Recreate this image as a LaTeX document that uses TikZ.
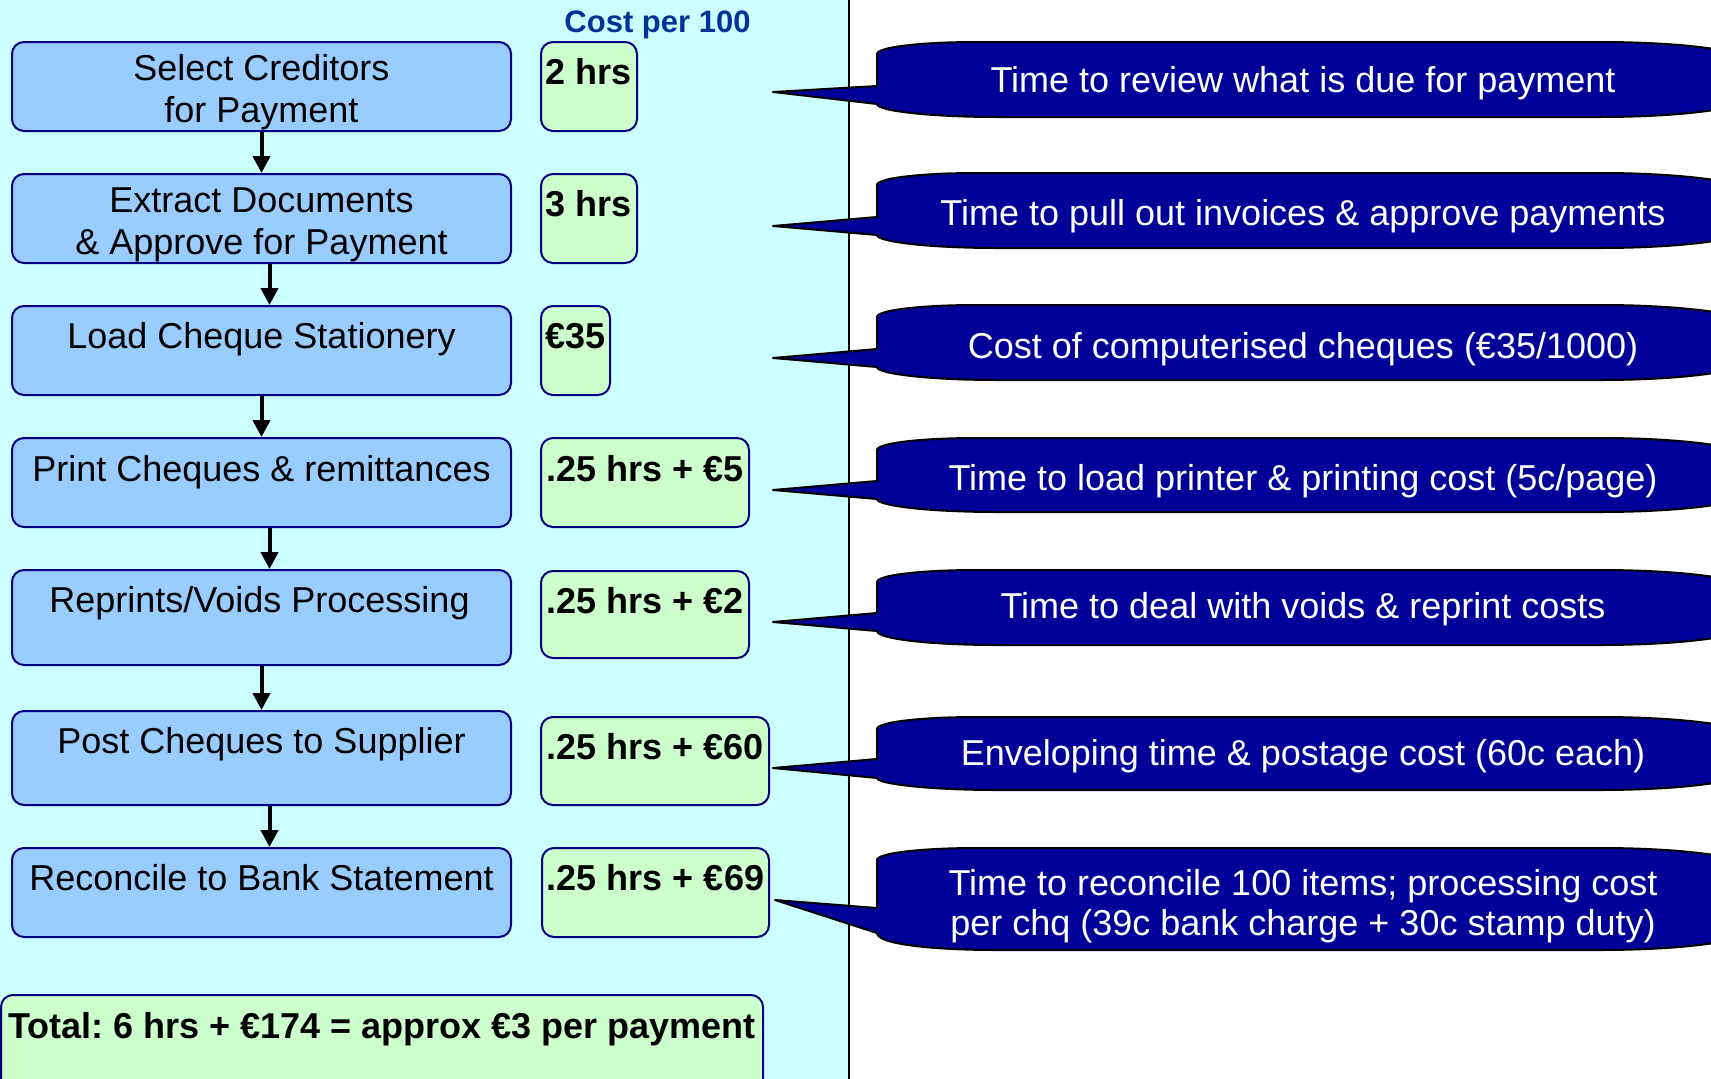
\documentclass[tikz,border=0pt]{standalone}
\usepackage{fontspec}
\setmainfont{Liberation Sans}
\usepackage{tikz}
\usetikzlibrary{arrows.meta,positioning}

\definecolor{panelcyan}{RGB}{204,255,255}
\definecolor{stepblue}{RGB}{153,204,255}
\definecolor{costgreen}{RGB}{204,255,204}
\definecolor{rimnavy}{RGB}{0,0,128}
\definecolor{bubblenavy}{RGB}{0,0,153}
\definecolor{headblue}{RGB}{0,51,153}

% callout body: tip, top, bottom, base top, base bottom
\newcommand\bubblepath[5]{%
  \draw[bubble] (#1) -- (877,#4) -- (877,#2+12)
    .. controls (877,#2+5) and (922,#2) .. (977,#2) -- (1600,#2)
    .. controls (1683,#2) and (1750,#2+9) .. (1750,#2+20) -- (1750,#3-20)
    .. controls (1750,#3-9) and (1683,#3) .. (1600,#3) -- (997,#3)
    .. controls (931,#3) and (877,#3-6) .. (877,#5) -- cycle;}

\begin{document}
\frenchspacing
\begin{tikzpicture}[x=1pt,y=-1pt,
  every node/.style={inner sep=0pt},
  stepbox/.style={draw=rimnavy,line width=2pt,fill=stepblue,rounded corners=12pt,minimum width=499pt},
  costbox/.style={draw=rimnavy,line width=2pt,fill=costgreen,rounded corners=12pt},
  steptext/.style={font=\fontsize{36}{42}\selectfont,align=center},
  costtext/.style={font=\fontsize{36}{42}\selectfont\bfseries},
  notetext/.style={font=\fontsize{36}{40}\selectfont,text=white,align=center},
  bubble/.style={draw=black,line width=2pt,fill=bubblenavy,line join=round},
  flow/.style={line width=4pt,-{Triangle[width=17pt,length=17pt]}}]
\useasboundingbox (0,0) rectangle (1711,1079);
\clip (0,0) rectangle (1711,1079);
\fill[panelcyan] (0,0) rectangle (849,1079);
\draw[line width=2pt] (849,0) -- (849,1079);

\node[font=\fontsize{31}{36}\selectfont\bfseries,text=headblue,anchor=base] (head) at (657.5,32) {Cost per 100};

% process steps
\node[stepbox,minimum height=89pt] (step1) at (261.5,86.5) {};
\node[stepbox,minimum height=89pt] (step2) at (261.5,218.5) {};
\node[stepbox,minimum height=89pt] (step3) at (261.5,350.5) {};
\node[stepbox,minimum height=89pt] (step4) at (261.5,482.5) {};
\node[stepbox,minimum height=95pt] (step5) at (261.5,617.5) {};
\node[stepbox,minimum height=94pt] (step6) at (261.5,758) {};
\node[stepbox,minimum height=89pt] (step7) at (261.5,892.5) {};
\node[steptext,anchor=north] (lab1) at ([yshift=-13.5pt]step1.north) {Select Creditors\\for Payment};
\node[steptext,anchor=north] (lab2) at ([yshift=-15pt]step2.north) {Extract Documents\\\& Approve for Payment};
\node[steptext,anchor=base] (lab3) at ([yshift=-43pt]step3.north) {Load Cheque Stationery};
\node[steptext,anchor=base] (lab4) at ([yshift=-44pt]step4.north) {Print Cheques \& remittances};
\node[steptext,anchor=base] (lab5) at ([xshift=-2pt,yshift=-43pt]step5.north) {Reprints/Voids Processing};
\node[steptext,anchor=base] (lab6) at ([yshift=-43pt]step6.north) {Post Cheques to Supplier};
\node[steptext,anchor=base] (lab7) at ([yshift=-43pt]step7.north) {Reconcile to Bank Statement};

\draw[flow] (step1) -- (step2);
\draw[flow] ([xshift=8pt]step2.south) -- ([xshift=8pt]step3.north);
\draw[flow] (step3) -- (step4);
\draw[flow] ([xshift=8pt]step4.south) -- ([xshift=8pt]step5.north);
\draw[flow] (step5) -- (step6);
\draw[flow] ([xshift=8pt]step6.south) -- ([xshift=8pt]step7.north);

% costs
\node[costbox,minimum width=96pt,minimum height=89pt] (cost1) at (589,86.5) {};
\node[costbox,minimum width=96pt,minimum height=89pt] (cost2) at (589,218.5) {};
\node[costbox,minimum width=69pt,minimum height=89pt] (cost3) at (575.5,350.5) {};
\node[costbox,minimum width=208pt,minimum height=89pt] (cost4) at (645,482.5) {};
\node[costbox,minimum width=208pt,minimum height=87pt] (cost5) at (645,614.5) {};
\node[costbox,minimum width=228pt,minimum height=88pt] (cost6) at (655,761) {};
\node[costbox,minimum width=227pt,minimum height=89pt] (cost7) at (655.5,892.5) {};
\node[costtext,anchor=base] (amt1) at ([yshift=-43pt]cost1.north) {2 hrs};
\node[costtext,anchor=base] (amt2) at ([yshift=-43pt]cost2.north) {3 hrs};
\node[costtext,anchor=base] (amt3) at ([yshift=-43pt]cost3.north) {€35};
\node[costtext,anchor=base] (amt4) at ([yshift=-44pt]cost4.north) {.25 hrs + €5};
\node[costtext,anchor=base] (amt5) at ([yshift=-43pt]cost5.north) {.25 hrs + €2};
\node[costtext,anchor=base] (amt6) at ([yshift=-43pt]cost6.north) {.25 hrs + €60};
\node[costtext,anchor=base] (amt7) at ([yshift=-43pt]cost7.north) {.25 hrs + €69};

\node[costbox,minimum width=762pt,minimum height=140pt,anchor=north west] (sum) at (0,994) {};
\node[costtext,anchor=base] (sumtext) at ([yshift=-44pt]sum.north) {Total: 6 hrs + €174 = approx €3 per payment};

% notes
\coordinate (tip1) at (773,92);
\coordinate (tip2) at (773,226);
\coordinate (tip3) at (773,358);
\coordinate (tip4) at (773,490);
\coordinate (tip5) at (773,622);
\coordinate (tip6) at (773,768);
\coordinate (tip7) at (775,900);
\bubblepath{tip1}{42}{117}{86}{104}
\bubblepath{tip2}{173}{248}{217}{235}
\bubblepath{tip3}{305}{380}{349}{367}
\bubblepath{tip4}{438}{512}{481}{499}
\bubblepath{tip5}{570}{645}{613}{631}
\bubblepath{tip6}{717}{790}{759}{778}
\bubblepath{tip7}{848}{950}{908}{933}
\node[notetext,anchor=base] (note1) at (1303,92) {Time to review what is due for payment};
\node[notetext,anchor=base] (note2) at (1303,225) {Time to pull out invoices \& approve payments};
\node[notetext,anchor=base] (note3) at (1303,358) {Cost of computerised cheques (€35/1000)};
\node[notetext,anchor=base] (note4) at (1303,490) {Time to load printer \& printing cost (5c/page)};
\node[notetext,anchor=base] (note5) at (1303,618) {Time to deal with voids \& reprint costs};
\node[notetext,anchor=base] (note6) at (1303,765) {Enveloping time \& postage cost (60c each)};
\node[notetext,anchor=north] (note7) at (1303,869) {Time to reconcile 100 items; processing cost\\per chq (39c bank charge + 30c stamp duty)};
\end{tikzpicture}
\end{document}
